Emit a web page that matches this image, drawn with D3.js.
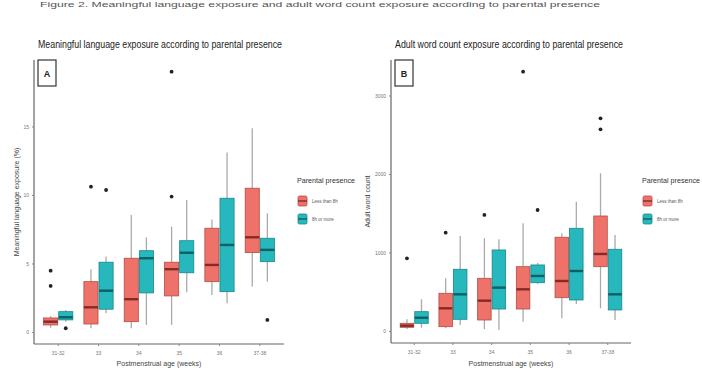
<!DOCTYPE html>
<html>
<head>
<meta charset="utf-8">
<script src="https://cdn.jsdelivr.net/npm/d3@7"></script>
<style>
  body { margin: 0; background: #fff; }
  svg { display: block; font-family: "Liberation Sans Narrow", "Liberation Sans", Arial, sans-serif; }
</style>
</head>
<body>
<div id="app"></div>
<script>
// categories
const ages = ["31-32", "33", "34", "35", "36", "37-38"];
const groups = ["Less than 8h", "8h or more"];

// panel A: meaningful language exposure (%), box stats per age
const mleLessLow = [0.3, 0.27, 0.27, 0.51, 2.7, 3.31];
const mleLessQ1 = [0.51, 0.58, 0.75, 2.63, 3.67, 5.79];
const mleLessMed = [0.75, 1.8, 2.39, 4.58, 4.89, 6.91];
const mleLessQ3 = [1.02, 3.67, 5.38, 5.09, 7.57, 10.49];
const mleLessHigh = [1.15, 4.58, 8.54, 7.69, 8.2, 14.87];
const mleLessOut = [[4.47, 3.36], [10.6], [], [9.88, 19.0], [], []];

const mleMoreLow = [0.75, 1.36, 0.51, 2.9, 2.09, 3.67];
const mleMoreQ1 = [0.88, 1.66, 2.85, 4.32, 2.94, 5.13];
const mleMoreMed = [1.07, 3.01, 5.38, 5.78, 6.35, 5.99];
const mleMoreQ3 = [1.48, 5.09, 5.93, 6.66, 9.76, 6.84];
const mleMoreHigh = [1.6, 5.5, 6.9, 9.64, 13.09, 8.66];
const mleMoreOut = [[0.27], [10.36], [], [], [], [0.88]];

// panel B: adult word count
const awcLessLow = [25, 34, 22, 118, 162, 289];
const awcLessQ1 = [47, 55, 140, 280, 424, 819];
const awcLessMed = [68, 289, 386, 531, 637, 981];
const awcLessQ3 = [98, 480, 671, 819, 1194, 1465];
const awcLessHigh = [149, 671, 1181, 1372, 1245, 2009];
const awcLessOut = [[926], [1252], [1478], [3303], [], [2709, 2569]];

const awcMoreLow = [42, 76, 13, 600, 344, 140];
const awcMoreQ1 = [98, 149, 280, 615, 395, 268];
const awcMoreMed = [169, 467, 552, 701, 764, 467];
const awcMoreQ3 = [246, 786, 1032, 841, 1308, 1041];
const awcMoreHigh = [404, 1210, 1168, 866, 1647, 1223];
const awcMoreOut = [[], [], [], [1541], [], []];

const mleTicks = [0, 5, 10, 15];
const awcTicks = [0, 1000, 2000, 3000];

const fills = ["#EE7269", "#27B8BD"];
const strokes = ["#B24C45", "#17868A"];
const medians = ["#862A25", "#0D5F63"];

const svg = d3.select("#app").append("svg").attr("width", 702).attr("height", 368);

// figure caption along the top edge
svg.append("text")
  .attr("x", 40).attr("y", 7)
  .attr("font-size", 8)
  .attr("fill", "#555")
  .attr("textLength", 560)
  .attr("lengthAdjust", "spacingAndGlyphs")
  .text("Figure 2. Meaningful language exposure and adult word count exposure according to parental presence");

const stats = (lo, q1, md, q3, hi, out) =>
  ages.map((a, i) => ({ age: a, lo: lo[i], q1: q1[i], med: md[i], q3: q3[i], hi: hi[i], out: out[i] }));

function panel(cfg) {
  const g = svg.append("g");
  const x = d3.scaleBand().domain(ages).range([cfg.left, cfg.right]).paddingOuter(0.1).paddingInner(0);
  const y = d3.scaleLinear().domain(cfg.yDomain).range([cfg.bottom, cfg.top]);
  const sub = d3.scaleBand().domain(groups).range([0.125 * x.bandwidth(), 0.875 * x.bandwidth()]);
  const bw = sub.bandwidth();

  g.append("text")
    .attr("x", cfg.left + 4).attr("y", 48)
    .attr("font-size", 10).attr("fill", "#222")
    .attr("textLength", cfg.titleLen).attr("lengthAdjust", "spacingAndGlyphs")
    .text(cfg.title);

  [cfg.less, cfg.more].forEach((series, k) => {
    const grp = g.append("g");
    const box = grp.selectAll("g").data(series).join("g")
      .attr("transform", d => `translate(${x(d.age) + sub(groups[k])},0)`);
    box.append("line")
      .attr("x1", bw / 2).attr("x2", bw / 2)
      .attr("y1", d => y(d.hi)).attr("y2", d => y(d.q3))
      .attr("stroke", "#aaa").attr("stroke-width", 1.3);
    box.append("line")
      .attr("x1", bw / 2).attr("x2", bw / 2)
      .attr("y1", d => y(d.q1)).attr("y2", d => y(d.lo))
      .attr("stroke", "#aaa").attr("stroke-width", 1.3);
    box.append("rect")
      .attr("x", 0.5).attr("width", bw - 1)
      .attr("y", d => y(d.q3)).attr("height", d => Math.max(1, y(d.q1) - y(d.q3)))
      .attr("fill", fills[k]).attr("stroke", strokes[k]).attr("stroke-width", 0.8);
    box.append("line")
      .attr("x1", 0.5).attr("x2", bw - 0.5)
      .attr("y1", d => y(d.med)).attr("y2", d => y(d.med))
      .attr("stroke", medians[k]).attr("stroke-width", 2.4);
    box.selectAll("circle").data(d => d.out).join("circle")
      .attr("cx", bw / 2).attr("cy", v => y(v)).attr("r", 1.9).attr("fill", "#222");
  });

  // axes
  const ax = g.append("g").attr("transform", `translate(0,${cfg.bottom})`)
    .call(d3.axisBottom(x).tickSize(2).tickPadding(5));
  const ay = g.append("g").attr("transform", `translate(${cfg.left},0)`)
    .call(d3.axisLeft(y).tickValues(cfg.ticks).tickFormat(d3.format("d")).tickSize(2).tickPadding(3));
  [ax, ay].forEach(a => {
    a.select(".domain").attr("stroke", "#666").attr("stroke-width", 1.2);
    a.selectAll(".tick line").attr("stroke", "#888");
    a.selectAll(".tick text").attr("font-size", 5).attr("fill", "#777").attr("font-family", null);
  });
  ay.select(".domain").attr("d", `M0,${cfg.bottom}V${cfg.top}`);
  ax.select(".domain").attr("d", `M${cfg.left},0H${cfg.right}`);

  g.append("text")
    .attr("x", (cfg.left + cfg.right) / 2).attr("y", 366)
    .attr("text-anchor", "middle").attr("font-size", 7).attr("fill", "#444")
    .text("Postmenstrual age (weeks)");
  g.append("text")
    .attr("transform", `translate(${cfg.left - cfg.yLabelOff},${(cfg.top + cfg.bottom) / 2}) rotate(-90)`)
    .attr("text-anchor", "middle").attr("font-size", 7).attr("fill", "#444")
    .text(cfg.yLabel);

  // panel letter
  g.append("rect")
    .attr("x", cfg.left + 4).attr("y", 60).attr("width", 18).attr("height", 26)
    .attr("fill", "#fff").attr("stroke", "#333").attr("stroke-width", 1.2);
  g.append("text")
    .attr("x", cfg.left + 13).attr("y", 77).attr("text-anchor", "middle")
    .attr("font-size", 9).attr("font-weight", "bold").attr("fill", "#222")
    .text(cfg.letter);

  // legend
  const lg = g.append("g").attr("transform", `translate(${cfg.legendX},0)`);
  lg.append("text").attr("x", 0).attr("y", 183).attr("font-size", 7.5).attr("fill", "#333")
    .attr("textLength", 58).attr("lengthAdjust", "spacingAndGlyphs")
    .text("Parental presence");
  groups.forEach((name, k) => {
    const yy = 196 + k * 18;
    lg.append("rect").attr("x", 1).attr("y", yy).attr("width", 9).attr("height", 10).attr("rx", 1.5)
      .attr("fill", fills[k]).attr("stroke", strokes[k]).attr("stroke-width", 0.8);
    lg.append("line").attr("x1", 1).attr("x2", 10).attr("y1", yy + 5).attr("y2", yy + 5)
      .attr("stroke", medians[k]).attr("stroke-width", 1.4);
    lg.append("text").attr("x", 15).attr("y", yy + 7).attr("font-size", 4.5).attr("fill", "#555")
      .text(name);
  });
}

panel({
  left: 34, right: 284, top: 60, bottom: 344,
  yDomain: [-0.88, 19.85], ticks: mleTicks, yLabelOff: 15,
  title: "Meaningful language exposure according to parental presence", titleLen: 244,
  yLabel: "Meaningful language exposure (%)", letter: "A", legendX: 297,
  less: stats(mleLessLow, mleLessQ1, mleLessMed, mleLessQ3, mleLessHigh, mleLessOut),
  more: stats(mleMoreLow, mleMoreQ1, mleMoreMed, mleMoreQ3, mleMoreHigh, mleMoreOut)
});

panel({
  left: 391, right: 631, top: 60, bottom: 343,
  yDomain: [-153, 3452], ticks: awcTicks, yLabelOff: 21,
  title: "Adult word count exposure according to parental presence", titleLen: 228,
  yLabel: "Adult word count", letter: "B", legendX: 642,
  less: stats(awcLessLow, awcLessQ1, awcLessMed, awcLessQ3, awcLessHigh, awcLessOut),
  more: stats(awcMoreLow, awcMoreQ1, awcMoreMed, awcMoreQ3, awcMoreHigh, awcMoreOut)
});
</script>
</body>
</html>
